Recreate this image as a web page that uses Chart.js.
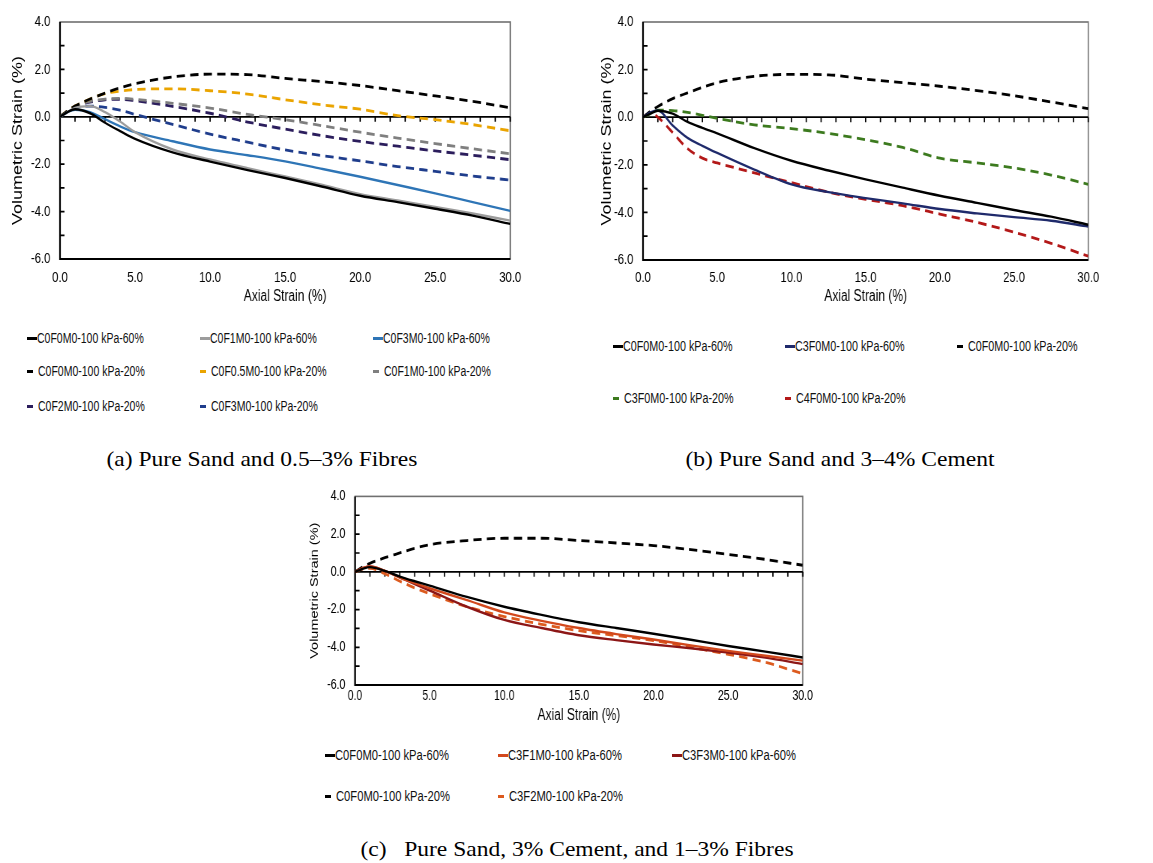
<!DOCTYPE html>
<html>
<head>
<meta charset="utf-8">
<script src="https://cdn.jsdelivr.net/npm/chart.js@4.4.1/dist/chart.umd.min.js"></script>
<style>
  body { margin: 0; background: #fff; width: 1153px; height: 863px; position: relative; overflow: hidden;
         font-family: 'Liberation Sans', Arial, sans-serif; }
  .box { position: absolute; }
  .box canvas { transform-origin: 0 0; display: block; }
  .leg { position: absolute; height: 14px; white-space: nowrap; font-size: 14px; line-height: 14px; color: #111; }
  .leg .sw { position: absolute; left: 0; top: 6px; height: 2.5px; }
  .leg .tx { position: absolute; top: 0; transform-origin: 0 50%; }
  .cap { position: absolute; font-family: 'Liberation Serif', 'Times New Roman', serif; font-size: 21px;
         white-space: pre; color: #000; }
</style>
</head>
<body>
<div class="box" id="boxA"><canvas id="chartA"></canvas></div>
<div class="box" id="boxB"><canvas id="chartB"></canvas></div>
<div class="box" id="boxC"><canvas id="chartC"></canvas></div>
<div class="cap" id="capA">(a) Pure Sand and 0.5–3% Fibres</div>
<div class="cap" id="capB">(b) Pure Sand and 3–4% Cement</div>
<div class="cap" id="capC">(c)   Pure Sand, 3% Cement, and 1–3% Fibres</div>
<script>
// shared axis values
const strain = [0, 0.5, 1, 2, 3, 4, 5, 7.5, 10, 12.5, 15, 17.5, 20, 22.5, 25, 27.5, 30];
const xTicks = [0, 5, 10, 15, 20, 25, 30];
const yTicks = [-6, -4, -2, 0, 2, 4];

// (a) pure sand and fibres
const a_C0F0M0_60 = [0, 0.2, 0.32, 0.15, -0.25, -0.6, -0.93, -1.5, -1.89, -2.25, -2.58, -2.95, -3.33, -3.6, -3.88, -4.17, -4.52];
const a_C0F1M0_60 = [0, 0.2, 0.38, 0.45, 0.2, -0.2, -0.65, -1.38, -1.8, -2.17, -2.52, -2.88, -3.26, -3.53, -3.8, -4.08, -4.38];
const a_C0F3M0_60 = [0, 0.2, 0.3, 0.2, -0.1, -0.4, -0.65, -1.03, -1.38, -1.62, -1.88, -2.2, -2.53, -2.88, -3.23, -3.6, -3.97];
const a_C0F0M0_20 = [0, 0.25, 0.45, 0.75, 1.0, 1.22, 1.4, 1.68, 1.8, 1.78, 1.62, 1.48, 1.32, 1.1, 0.88, 0.65, 0.38];
const a_C0F05M0_20 = [0, 0.25, 0.45, 0.75, 0.98, 1.08, 1.15, 1.18, 1.1, 0.96, 0.72, 0.5, 0.32, 0.05, -0.12, -0.33, -0.59];
const a_C0F1M0_20 = [0, 0.25, 0.45, 0.65, 0.75, 0.78, 0.74, 0.57, 0.37, 0.1, -0.12, -0.38, -0.65, -0.9, -1.13, -1.35, -1.56];
const a_C0F2M0_20 = [0, 0.25, 0.45, 0.62, 0.72, 0.74, 0.68, 0.44, 0.15, -0.22, -0.52, -0.8, -1.04, -1.24, -1.44, -1.62, -1.81];
const a_C0F3M0_20 = [0, 0.2, 0.38, 0.45, 0.4, 0.28, 0.1, -0.32, -0.73, -1.07, -1.4, -1.64, -1.86, -2.1, -2.3, -2.5, -2.67];
const labelsA = ['C0F0M0-100 kPa-60%', 'C0F1M0-100 kPa-60%', 'C0F3M0-100 kPa-60%',
                 'C0F0M0-100 kPa-20%', 'C0F0.5M0-100 kPa-20%', 'C0F1M0-100 kPa-20%',
                 'C0F2M0-100 kPa-20%', 'C0F3M0-100 kPa-20%'];
const valuesA = [a_C0F0M0_60, a_C0F1M0_60, a_C0F3M0_60, a_C0F0M0_20, a_C0F05M0_20, a_C0F1M0_20, a_C0F2M0_20, a_C0F3M0_20];
const colorsA = ['#000000', '#9c9c9c', '#2e75b6', '#000000', '#eaa400', '#7f7f7f', '#2b1d5c', '#1f3d8c'];
const dashedA = [false, false, false, true, true, true, true, true];

// (b) pure sand and cement
const b_C0F0M0_60 = [0, 0.15, 0.27, 0.15, -0.2, -0.45, -0.68, -1.3, -1.83, -2.24, -2.61, -2.96, -3.3, -3.6, -3.9, -4.18, -4.52];
const b_C3F0M0_60 = [0, 0.2, 0.28, -0.35, -0.87, -1.2, -1.5, -2.2, -2.82, -3.15, -3.4, -3.62, -3.86, -4.04, -4.2, -4.35, -4.59];
const b_C0F0M0_20 = [0, 0.25, 0.45, 0.78, 1.02, 1.25, 1.45, 1.72, 1.8, 1.78, 1.6, 1.45, 1.3, 1.12, 0.9, 0.64, 0.36];
const b_C3F0M0_20 = [0, 0.15, 0.3, 0.28, 0.2, 0.08, -0.05, -0.32, -0.48, -0.68, -0.95, -1.27, -1.72, -1.92, -2.13, -2.43, -2.82];
const b_C4F0M0_20 = [0, 0.18, 0.0, -0.65, -1.32, -1.72, -1.92, -2.34, -2.75, -3.15, -3.45, -3.72, -4.07, -4.42, -4.83, -5.3, -5.84];
const labelsB = ['C0F0M0-100 kPa-60%', 'C3F0M0-100 kPa-60%', 'C0F0M0-100 kPa-20%',
                 'C3F0M0-100 kPa-20%', 'C4F0M0-100 kPa-20%'];
const valuesB = [b_C0F0M0_60, b_C3F0M0_60, b_C0F0M0_20, b_C3F0M0_20, b_C4F0M0_20];
const colorsB = ['#000000', '#1f2a6b', '#000000', '#3c7a1e', '#b31818'];
const dashedB = [false, false, true, true, true];

// (c) pure sand, cement and fibres
const c_C0F0M0_60 = [0, 0.15, 0.25, 0.05, -0.25, -0.5, -0.73, -1.33, -1.85, -2.28, -2.67, -2.98, -3.28, -3.6, -3.93, -4.23, -4.54];
const c_C3F1M0_60 = [0, 0.2, 0.28, 0.05, -0.3, -0.6, -0.87, -1.5, -2.15, -2.6, -2.98, -3.3, -3.59, -3.9, -4.19, -4.45, -4.71];
const c_C3F3M0_60 = [0, 0.2, 0.28, 0.05, -0.3, -0.65, -0.99, -1.85, -2.55, -2.98, -3.36, -3.62, -3.85, -4.05, -4.28, -4.55, -4.89];
const c_C0F0M0_20 = [0, 0.25, 0.45, 0.75, 1.0, 1.25, 1.44, 1.66, 1.78, 1.78, 1.66, 1.53, 1.39, 1.18, 0.92, 0.66, 0.35];
const c_C3F2M0_20 = [0, 0.15, 0.18, -0.1, -0.5, -0.85, -1.16, -1.85, -2.37, -2.78, -3.12, -3.38, -3.64, -4.0, -4.37, -4.8, -5.4];
const labelsC = ['C0F0M0-100 kPa-60%', 'C3F1M0-100 kPa-60%', 'C3F3M0-100 kPa-60%',
                 'C0F0M0-100 kPa-20%', 'C3F2M0-100 kPa-20%'];
const valuesC = [c_C0F0M0_60, c_C3F1M0_60, c_C3F3M0_60, c_C0F0M0_20, c_C3F2M0_20];
const colorsC = ['#000000', '#d2481c', '#8c1616', '#000000', '#dc5a1e'];
const dashedC = [false, false, false, true, true];

// the original figure is squeezed sideways, so each canvas is drawn wider and scaled down
const SX = 0.75;

function makeSets(labels, values, colors, dashed) {
    return labels.map((lab, i) => ({
        label: lab,
        data: strain.map((x, j) => ({ x: x, y: values[i][j] })),
        borderColor: colors[i],
        backgroundColor: colors[i],
        borderWidth: dashed[i] ? 2.8 : 2.4,
        borderDash: dashed[i] ? [11, 7] : [],
        pointRadius: 0,
        cubicInterpolationMode: 'monotone',
        fill: false
    }));
}

const framePlugin = {
    id: 'frame',
    beforeDatasetsDraw(chart) {
        const { ctx, chartArea: a, scales: { x, y } } = chart;
        ctx.save();
        ctx.strokeStyle = '#707070';
        ctx.lineWidth = 1.6;
        ctx.strokeRect(a.left, a.top, a.right - a.left, a.bottom - a.top);
        ctx.strokeStyle = '#000';
        ctx.lineWidth = 2.2;
        ctx.beginPath();
        ctx.moveTo(a.left, a.top);
        ctx.lineTo(a.left, a.bottom);
        ctx.lineTo(a.right, a.bottom);
        ctx.stroke();
        const y0 = y.getPixelForValue(0);
        ctx.lineWidth = 1.7;
        ctx.beginPath();
        ctx.moveTo(a.left, y0);
        ctx.lineTo(a.right, y0);
        for (let v = x.min + 1; v <= x.max; v++) {
            const px = x.getPixelForValue(v);
            ctx.moveTo(px, y0);
            ctx.lineTo(px, y0 + 5);
        }
        for (let v = y.min + 1; v < y.max; v++) {
            const py = y.getPixelForValue(v);
            ctx.moveTo(a.left, py);
            ctx.lineTo(a.left + 6, py);
        }
        ctx.stroke();
        ctx.restore();
    }
};

// box and plot are in page pixels
function buildChart(id, box, plot, sets, f) {
    const canvas = document.getElementById(id);
    const wrap = canvas.parentElement;
    wrap.style.left = box.left + 'px';
    wrap.style.top = box.top + 'px';
    const cw = Math.round(box.width / SX);
    canvas.width = cw;
    canvas.height = box.height;
    canvas.style.width = cw + 'px';
    canvas.style.height = box.height + 'px';
    canvas.style.transform = 'scaleX(' + SX + ')';

    new Chart(canvas, {
        type: 'line',
        data: { datasets: sets },
        options: {
            responsive: false,
            animation: false,
            events: [],
            layout: {
                padding: {
                    left: 0,
                    top: plot.top - box.top,
                    right: (box.left + box.width - plot.right) / SX,
                    bottom: 0
                }
            },
            scales: {
                x: {
                    type: 'linear',
                    min: 0,
                    max: 30,
                    afterBuildTicks: s => { s.ticks = xTicks.map(v => ({ value: v })); },
                    afterFit: s => { s.height = box.top + box.height - plot.bottom; },
                    ticks: {
                        callback: v => v.toFixed(1),
                        color: '#000',
                        font: { size: f.tick, family: 'Liberation Sans' },
                        padding: f.xpad,
                        maxRotation: 0
                    },
                    grid: { display: false, drawTicks: false },
                    border: { display: false },
                    title: {
                        display: true,
                        text: 'Axial Strain (%)',
                        color: '#000',
                        font: { size: 16, family: 'Liberation Sans' },
                        padding: { top: 0, bottom: 0 }
                    }
                },
                y: {
                    min: -6,
                    max: 4,
                    afterBuildTicks: s => { s.ticks = yTicks.map(v => ({ value: v })); },
                    afterFit: s => { s.width = (plot.left - box.left) / SX; },
                    ticks: {
                        callback: v => v.toFixed(1),
                        color: '#000',
                        font: { size: f.tick, family: 'Liberation Sans' },
                        padding: 13
                    },
                    grid: { display: false, drawTicks: false },
                    border: { display: false },
                    title: {
                        display: true,
                        text: 'Volumetric Strain (%)',
                        color: '#000',
                        font: { size: f.ytitle, family: 'Liberation Sans' },
                        padding: { top: f.ypad, bottom: 0 }
                    }
                }
            },
            plugins: {
                legend: { display: false },
                tooltip: { enabled: false }
            }
        },
        plugins: [framePlugin]
    });
}

function buildLegend(labels, colors, dashed, cols, rows, scale) {
    labels.forEach((lab, i) => {
        const d = document.createElement('div');
        d.className = 'leg';
        d.style.left = cols[i % 3] + 'px';
        d.style.top = (rows[Math.floor(i / 3)] - 7) + 'px';
        const sw = document.createElement('span');
        sw.className = 'sw';
        sw.style.background = colors[i];
        sw.style.width = dashed[i] ? '6px' : '10px';
        const tx = document.createElement('span');
        tx.className = 'tx';
        tx.textContent = lab;
        tx.style.left = (dashed[i] ? 11 : 10) + 'px';
        tx.style.transform = 'scaleX(' + scale + ')';
        d.appendChild(sw);
        d.appendChild(tx);
        document.body.appendChild(d);
    });
}

function placeCaption(id, cx, cy) {
    const el = document.getElementById(id);
    el.style.left = cx + 'px';
    el.style.top = cy + 'px';
    el.style.transform = 'translate(-50%, -50%) scaleX(1.12)';
}

buildChart('chartA', { left: 0, top: 0, width: 530, height: 306 }, { left: 60, top: 16, right: 510, bottom: 259 },
    makeSets(labelsA, valuesA, colorsA, dashedA), { tick: 15, ytitle: 18, ypad: 13, xpad: 10 });
buildChart('chartB', { left: 580, top: 0, width: 530, height: 306 }, { left: 643, top: 19, right: 1088, bottom: 260 },
    makeSets(labelsB, valuesB, colorsB, dashedB), { tick: 15, ytitle: 18, ypad: 25, xpad: 9 });
buildChart('chartC', { left: 290, top: 475, width: 535, height: 250 }, { left: 355, top: 493, right: 803, bottom: 685 },
    makeSets(labelsC, valuesC, colorsC, dashedC), { tick: 14, ytitle: 14.5, ypad: 24, xpad: 3 });

buildLegend(labelsA, colorsA, dashedA, [27, 200, 373], [338, 371, 406], 0.75);
buildLegend(labelsB, colorsB, dashedB, [613, 785, 957], [346, 398], 0.77);
buildLegend(labelsC, colorsC, dashedC, [325, 498, 672], [755, 796], 0.8);

placeCaption('capA', 262, 459);
placeCaption('capB', 840, 459);
placeCaption('capC', 577, 849);
</script>
</body>
</html>
